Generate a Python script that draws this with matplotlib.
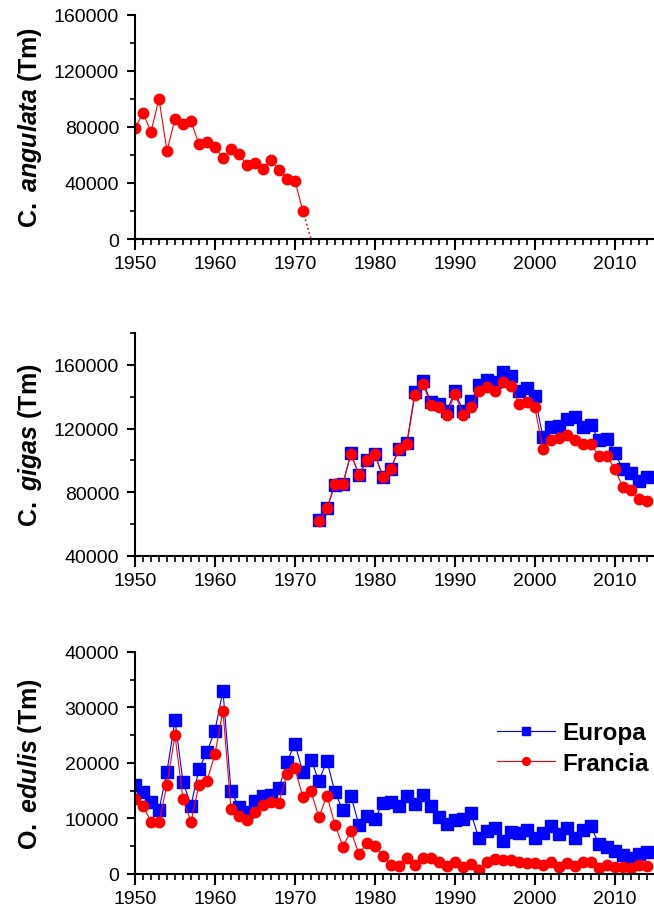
import numpy as np
import matplotlib
matplotlib.use("Agg")
import matplotlib.pyplot as plt
from matplotlib.ticker import MultipleLocator

plt.rcParams['font.family'] = ['Liberation Sans', 'DejaVu Sans']
plt.rcParams['mathtext.fontset'] = 'custom'
plt.rcParams['mathtext.rm'] = 'Liberation Sans:bold'
plt.rcParams['mathtext.bf'] = 'Liberation Sans:bold'
plt.rcParams['mathtext.it'] = 'Liberation Sans:bold:italic'

# Produccion de ostra (Tm) por especie
ang_years = np.arange(1950, 1973)
ang_francia = [79000, 90000, 76500, 100000, 63000, 85500, 82000, 84000, 68000, 69500,
               66000, 57500, 64500, 60500, 52500, 54500, 50000, 56500, 49500, 43000,
               41500, 20000, 0]

gig_years = np.arange(1973, 2015)
gig_europa = [62700, 69800, 84800, 85400, 104400, 91000, 100000, 104000, 89400, 94600,
              107300, 111000, 142700, 149600, 136500, 135600, 130800, 143700, 131000, 137000,
              147500, 150600, 149000, 155800, 152700, 143300, 145400, 140200, 114800, 120800,
              121500, 126200, 127300, 120800, 122000, 113000, 113500, 104800, 94400, 92300,
              87000, 89600]
gig_francia = [61700, 70000, 85000, 85400, 104000, 91000, 100000, 104000, 89400, 94600,
               107300, 110000, 141000, 148000, 135000, 133500, 128700, 141900, 128700, 133300,
               143300, 146000, 143700, 149200, 146900, 135600, 136500, 133300, 107300, 112700,
               114200, 116200, 112700, 110000, 110000, 103000, 103000, 94400, 83300, 81400,
               75600, 74600]

edu_years = np.arange(1950, 2015)
edu_europa = [16000, 14800, 13000, 11500, 18400, 27700, 16600, 12300, 18900, 22000,
              25800, 33000, 15000, 12000, 11100, 13100, 14000, 14300, 15400, 20200,
              23400, 18300, 20600, 16700, 20400, 14700, 11500, 14000, 8900, 10500,
              9900, 12800, 12900, 12200, 14000, 12600, 14200, 12200, 10300, 9000,
              9700, 9900, 11000, 6400, 7700, 8200, 6000, 7500, 7400, 8000,
              6400, 7300, 8600, 7200, 8200, 6500, 8000, 8600, 5400, 4800,
              4100, 3400, 2800, 3600, 4000]
edu_francia = [13500, 12300, 9400, 9400, 16000, 25000, 13500, 9400, 16000, 16700,
               21600, 29400, 11700, 10500, 9800, 11200, 12400, 13000, 12800, 18000,
               19100, 13800, 14900, 10200, 14100, 8900, 4900, 7700, 3600, 5500,
               5000, 3300, 1600, 1500, 2800, 1700, 2900, 2800, 2100, 1500,
               2100, 1300, 1800, 700, 2100, 2700, 2500, 2500, 2200, 1900,
               1900, 1700, 2100, 1300, 2000, 1400, 2100, 2100, 1100, 1600,
               1300, 1200, 1000, 1600, 1500]

azul = '#0000FF'
rojo = '#FF0000'

fig = plt.figure(figsize=(6.54, 9.12), dpi=100)
ax1 = fig.add_axes([0.2064, 0.7368, 0.7936, 0.2459])
ax2 = fig.add_axes([0.2064, 0.3893, 0.7936, 0.2445])
ax3 = fig.add_axes([0.2064, 0.0406, 0.7936, 0.2437])


def estilo(ax, ymin, ymax, paso, etiqueta):
    ax.set_xlim(1950, 2014.9)
    ax.set_ylim(ymin, ymax)
    ax.xaxis.set_major_locator(MultipleLocator(10))
    ax.xaxis.set_minor_locator(MultipleLocator(1))
    ax.yaxis.set_major_locator(MultipleLocator(paso))
    ax.yaxis.set_minor_locator(MultipleLocator(paso / 2))
    ax.spines['top'].set_visible(False)
    ax.spines['right'].set_visible(False)
    for s in ('left', 'bottom'):
        ax.spines[s].set_linewidth(1.5)
    ax.tick_params(axis='x', which='major', direction='out', length=8, width=1.5,
                   labelsize=14, pad=3.5)
    ax.tick_params(axis='x', which='minor', direction='out', length=4, width=1.2)
    ax.tick_params(axis='y', which='major', direction='out', length=6, width=1.5,
                   labelsize=14, pad=5.5)
    ax.tick_params(axis='y', which='minor', direction='out', length=3.5, width=1.2)
    ax.set_ylabel(etiqueta, fontsize=18, fontweight='bold')
    ax.yaxis.set_label_coords(-0.175, 0.5)


# C. angulata: solo Francia, ultimo tramo punteado hasta cero
ax1.plot(ang_years[:-1], ang_francia[:-1], '-o', color=rojo, lw=0.8, ms=7.5)
ax1.plot(ang_years[-2:], ang_francia[-2:], ':', color=rojo, lw=1.2)
estilo(ax1, 0, 160000, 40000, r'$\mathbf{C.}$ $\mathit{angulata}$ $\mathbf{(Tm)}$')

# C. gigas
ax2.plot(gig_years, gig_europa, '-s', color=azul, lw=0.8, ms=8)
ax2.plot(gig_years, gig_francia, '-o', color=rojo, lw=0.8, ms=7.5)
estilo(ax2, 40000, 180000, 40000, r'$\mathbf{C.}$ $\mathit{gigas}$ $\mathbf{(Tm)}$')

# O. edulis
ax3.plot(edu_years, edu_europa, '-s', color=azul, lw=0.8, ms=8, label='Europa')
ax3.plot(edu_years, edu_francia, '-o', color=rojo, lw=0.8, ms=7.5, label='Francia')
estilo(ax3, 0, 40000, 10000, r'$\mathbf{O.}$ $\mathit{edulis}$ $\mathbf{(Tm)}$')
ax3.legend(loc='upper right', bbox_to_anchor=(1.033, 0.785), frameon=False,
           prop={'weight': 'bold', 'size': 17.5}, handlelength=2.4,
           handletextpad=0.3, labelspacing=0.3, markerscale=0.75)

fig.savefig('out.png', dpi=100)
